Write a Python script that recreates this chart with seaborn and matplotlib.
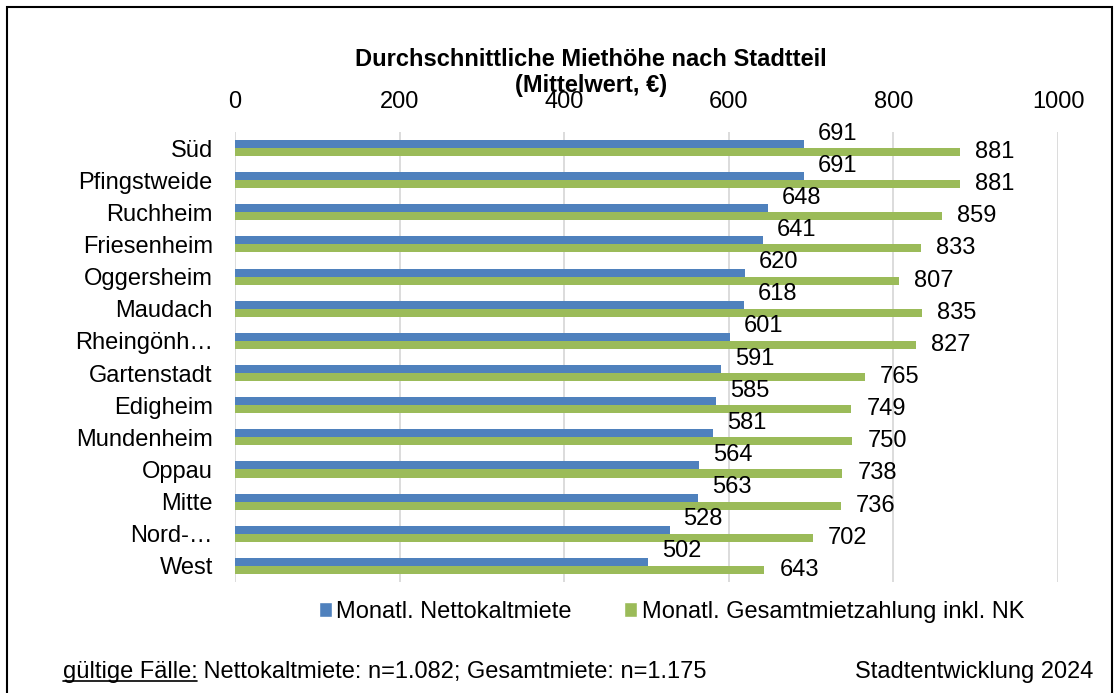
import pandas as pd
import matplotlib.pyplot as plt
from matplotlib.patches import Rectangle, Patch
from matplotlib.lines import Line2D
import seaborn as sns

# Data
stadtteile = ['Süd', 'Pfingstweide', 'Ruchheim', 'Friesenheim', 'Oggersheim', 'Maudach',
              'Rheingönh…', 'Gartenstadt', 'Edigheim', 'Mundenheim', 'Oppau', 'Mitte',
              'Nord-…', 'West']
nettokalt = [691, 691, 648, 641, 620, 618, 601, 591, 585, 581, 564, 563, 528, 502]
gesamt = [881, 881, 859, 833, 807, 835, 827, 765, 749, 750, 738, 736, 702, 643]
serien = ['Monatl. Nettokaltmiete', 'Monatl. Gesamtmietzahlung inkl. NK']
x_ticks = [0, 200, 400, 600, 800, 1000]

# Custom colors
custom_colors = ['#4F81BD', '#9BBB59']

df = pd.DataFrame({
    'Stadtteil': stadtteile * 2,
    'Wert': nettokalt + gesamt,
    'Serie': [serien[0]] * len(stadtteile) + [serien[1]] * len(stadtteile),
})

sns.set_style('white')
plt.rcParams['font.family'] = ['Liberation Sans', 'DejaVu Sans']
plt.rcParams['text.color'] = 'black'
plt.rcParams['xtick.color'] = 'black'
plt.rcParams['ytick.color'] = 'black'
fs = 17

fig = plt.figure(figsize=(11.19, 6.93), dpi=100)
ax = fig.add_axes([0.21, 0.1602, 0.7355, 0.6494])

sns.barplot(data=df, y='Stadtteil', x='Wert', hue='Serie', orient='h', width=0.5,
            palette=custom_colors, saturation=1, legend=False, ax=ax, linewidth=0)

ax.set_xlim(0, 1000)
ax.set_xticks(x_ticks)
ax.xaxis.tick_top()
ax.tick_params(axis='x', length=0, pad=14, labelsize=fs, labelcolor='black')
ax.tick_params(axis='y', length=0, pad=16, labelsize=fs, labelcolor='black')
ax.set_xlabel('')
ax.set_ylabel('')
ax.grid(axis='x', color='#D9D9D9', linewidth=1.3)
ax.set_axisbelow(True)
for s in ax.spines.values():
    s.set_visible(False)

# Value labels
offsets = [(10, 7.5), (11, 0)]
for cont, off in zip(ax.containers, offsets):
    for bar in cont:
        w = bar.get_width()
        yc = bar.get_y() + bar.get_height() / 2
        ax.annotate(f'{w:.0f}', xy=(w, yc), xytext=off, textcoords='offset points',
                    ha='left', va='center', fontsize=fs, color='black')

# Title
fig.text(0.528, 0.914, 'Durchschnittliche Miethöhe nach Stadtteil', ha='center', va='center',
         fontsize=fs, fontweight='bold')
fig.text(0.528, 0.876, '(Mittelwert, €)', ha='center', va='center',
         fontsize=fs, fontweight='bold')

# Legend
handles = [Patch(facecolor=c, label=l) for c, l in zip(custom_colors, serien)]
fig.legend(handles=handles, loc='center', bbox_to_anchor=(0.6, 0.117), ncol=2, frameon=False,
           fontsize=fs, handlelength=0.55, handleheight=0.55, handletextpad=0.2, columnspacing=2.2)

# Footer
t1 = fig.text(0.056, 0.03, 'gültige Fälle:', ha='left', va='center', fontsize=fs)
t2 = ax.annotate(' Nettokaltmiete: n=1.082; Gesamtmiete: n=1.175', xy=(1, 0), xycoords=t1,
                 ha='left', va='bottom', fontsize=fs, annotation_clip=False)
fig.text(0.977, 0.03, 'Stadtentwicklung 2024', ha='right', va='center', fontsize=fs)

fig.canvas.draw()
bb = t1.get_window_extent().transformed(fig.transFigure.inverted())
fig.add_artist(Line2D([bb.x0, bb.x1], [bb.y0 + 0.003, bb.y0 + 0.003], color='black',
                      linewidth=1.2, transform=fig.transFigure))

# Border
fig.add_artist(Rectangle((7 / 1119, -0.05), 1105 / 1119, 1.05 - 7 / 693, fill=False,
                         edgecolor='black', linewidth=1.5, transform=fig.transFigure))

fig.savefig('out.png', dpi=100)
